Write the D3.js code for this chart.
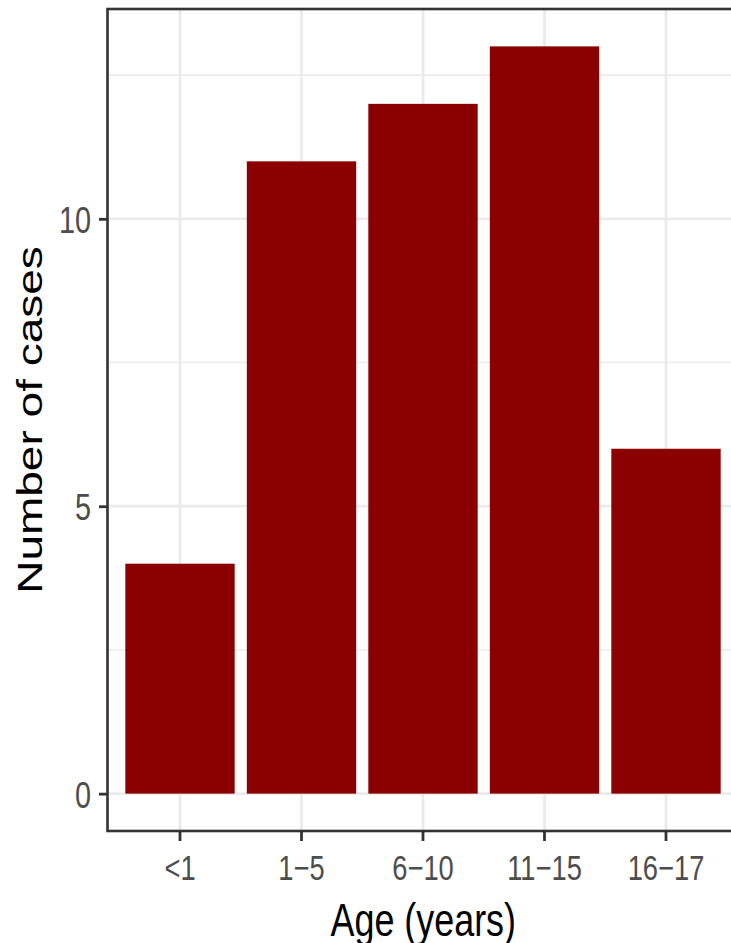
<!DOCTYPE html>
<html>
<head>
<meta charset="utf-8">
<script src="https://cdn.jsdelivr.net/npm/d3@7"></script>
<style>
  html, body { margin: 0; padding: 0; background: #fff; }
  svg { display: block; }
  text { font-family: "Liberation Sans", Arial, sans-serif; }
</style>
</head>
<body>
<script>
const categories = ["<1", "1\u22125", "6\u221210", "11\u221215", "16\u221217"];
const cases = [4, 11, 12, 13, 6];
const yMajorTicks = [0, 5, 10];
const yMinorTicks = [2.5, 7.5, 12.5];
const xTitle = "Age (years)";
const yTitle = "Number of cases";

const W = 731, H = 943;
const SX = 0.78; // horizontal text squeeze of the reference
const panel = { left: 107.5, right: 739, top: 9, bottom: 831 };

const svg = d3.select("body").append("svg").attr("width", W).attr("height", H);
svg.append("rect").attr("width", W).attr("height", H).attr("fill", "#fff");

const x = d3.scaleBand().domain(categories)
  .range([119.25, 726.75]).paddingInner(0.1).paddingOuter(0.05);
const yMax = d3.max(cases);
const y = d3.scaleLinear().domain([-yMax * 0.05, yMax * 1.05])
  .range([panel.bottom, panel.top]);

const clip = svg.append("clipPath").attr("id", "pc").append("rect")
  .attr("x", panel.left).attr("y", panel.top)
  .attr("width", panel.right - panel.left).attr("height", panel.bottom - panel.top);

const g = svg.append("g").attr("clip-path", "url(#pc)");

// grid
g.selectAll(".minor").data(yMinorTicks).join("line")
  .attr("x1", panel.left).attr("x2", panel.right)
  .attr("y1", d => y(d)).attr("y2", d => y(d))
  .attr("stroke", "#ebebeb").attr("stroke-width", 1.6);
g.selectAll(".major").data(yMajorTicks).join("line")
  .attr("x1", panel.left).attr("x2", panel.right)
  .attr("y1", d => y(d)).attr("y2", d => y(d))
  .attr("stroke", "#ebebeb").attr("stroke-width", 2.8);
g.selectAll(".vmajor").data(categories).join("line")
  .attr("y1", panel.top).attr("y2", panel.bottom)
  .attr("x1", d => x(d) + x.bandwidth() / 2).attr("x2", d => x(d) + x.bandwidth() / 2)
  .attr("stroke", "#ebebeb").attr("stroke-width", 2.8);

// bars
g.selectAll(".bar").data(categories).join("rect")
  .attr("x", d => x(d)).attr("width", x.bandwidth())
  .attr("y", (d, i) => y(cases[i]))
  .attr("height", (d, i) => y(0) - y(cases[i]))
  .attr("fill", "#8b0000");

// panel border
svg.append("rect")
  .attr("x", panel.left).attr("y", panel.top)
  .attr("width", panel.right - panel.left).attr("height", panel.bottom - panel.top)
  .attr("fill", "none").attr("stroke", "#333").attr("stroke-width", 2.6);

// axes
const yAxis = svg.append("g").attr("transform", `translate(${panel.left},0)`)
  .call(d3.axisLeft(y).tickValues(yMajorTicks).tickSize(8.5).tickSizeOuter(0).tickPadding(0));
yAxis.select(".domain").remove();
yAxis.selectAll(".tick line").attr("stroke", "#333").attr("stroke-width", 2.8);
yAxis.selectAll(".tick text")
  .attr("x", null).attr("dy", null).attr("y", null)
  .attr("transform", `translate(-16.5,13.5) scale(${SX},1)`)
  .attr("fill", "#4d4d4d").attr("font-size", 37).attr("text-anchor", "end");

const xAxis = svg.append("g").attr("transform", `translate(0,${panel.bottom})`)
  .call(d3.axisBottom(x).tickSize(10).tickSizeOuter(0).tickPadding(0));
xAxis.select(".domain").remove();
xAxis.selectAll(".tick line").attr("stroke", "#333").attr("stroke-width", 2.8);
xAxis.selectAll(".tick text")
  .attr("x", null).attr("dy", null).attr("y", null)
  .attr("transform", `translate(0,49) scale(${SX},1)`)
  .attr("fill", "#4d4d4d").attr("font-size", 35).attr("text-anchor", "middle");

// titles
svg.append("text")
  .attr("transform", `translate(${(panel.left + panel.right) / 2},936) scale(${SX},1)`)
  .attr("text-anchor", "middle").attr("font-size", 46).attr("fill", "#000")
  .text(xTitle);
svg.append("text")
  .attr("transform", `translate(42,${(panel.top + panel.bottom) / 2}) scale(${SX},1) rotate(-90)`)
  .attr("text-anchor", "middle").attr("font-size", 46).attr("fill", "#000")
  .text(yTitle);
</script>
</body>
</html>
